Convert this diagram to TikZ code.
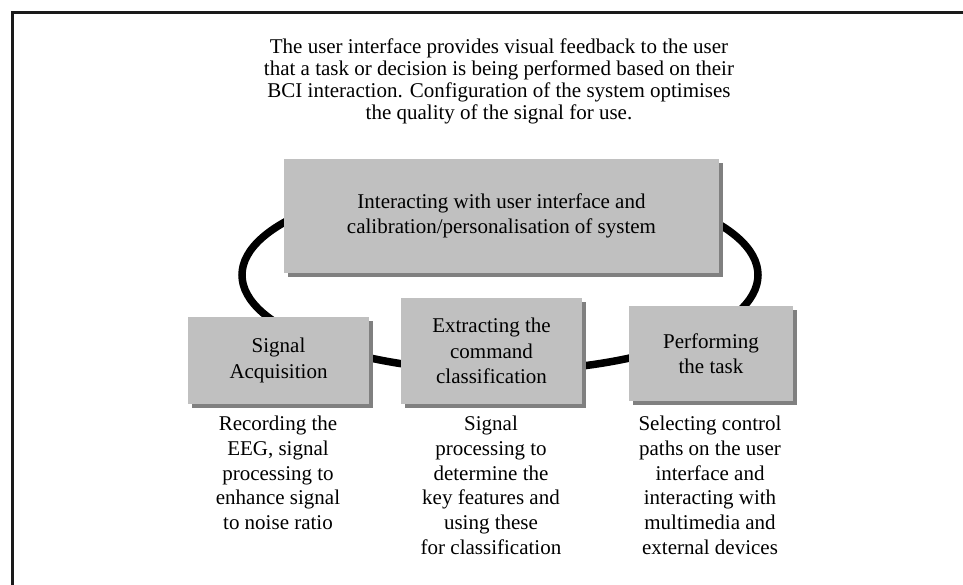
\documentclass[tikz,border=0pt]{standalone}
\usepackage{fontspec}
\setmainfont{Liberation Serif}
\usetikzlibrary{shadows}
\definecolor{boxgray}{HTML}{C0C0C0}
\definecolor{shadegray}{HTML}{808080}
\definecolor{framegray}{HTML}{1A1A1A}
\begin{document}
\begin{tikzpicture}[x=1pt, y=-1pt,
		stage/.style={fill=boxgray, align=center, inner sep=0pt, font=\fontsize{21}{25.5}\selectfont,
			drop shadow={shadow xshift=4pt, shadow yshift=-4pt, fill=shadegray, opacity=1}},
		note/.style={align=center, inner sep=0pt, anchor=north, font=\fontsize{21}{24.7}\selectfont},
		loopline/.style={line width=7.5pt},
		frame/.style={line width=3pt, draw=framegray}]
	\useasboundingbox (0,0) rectangle (963,585);
	\draw[frame] (12.5,585) -- (12.5,12.5) -- (963,12.5);
	\coordinate (centre) at (500,275);
	\draw[loopline] (centre) ellipse [x radius=258, y radius=96];
	\node[note, font=\fontsize{21}{22}\selectfont] (intro) at (499,39) {The user interface provides visual feedback to the user\\that a task or decision is being performed based on their\\BCI interaction. Configuration of the system optimises\\the quality of the signal for use.};
	\node[stage, minimum width=435, minimum height=114] (ui) at (501.5,216) {Interacting with user interface and\\calibration/personalisation of system};
	\node[stage, minimum width=181, minimum height=87] (acq) at (278.5,360.5) {Signal\\Acquisition};
	\node[stage, minimum width=181, minimum height=106] (cls) at (491.5,351) {Extracting the\\command\\classification};
	\node[stage, minimum width=164, minimum height=95] (task) at (711,353.5) {Performing\\the task};
	\node[note] (acqnote) at (278,416) {Recording the\\EEG, signal\\processing to\\enhance signal\\to noise ratio};
	\node[note] (clsnote) at (491,416) {Signal\\processing to\\determine the\\key features and\\using these\\for classification};
	\node[note] (tasknote) at (710,416) {Selecting control\\paths on the user\\interface and\\interacting with\\multimedia and\\external devices};
\end{tikzpicture}
\end{document}
